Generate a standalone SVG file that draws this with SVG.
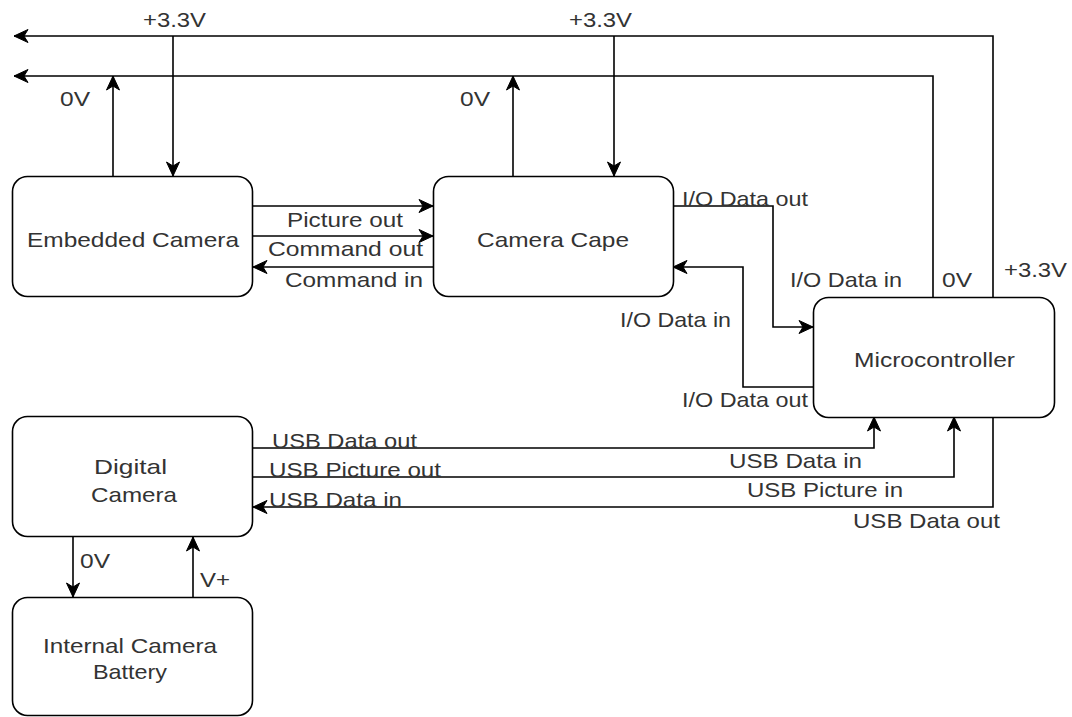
<svg xmlns="http://www.w3.org/2000/svg" width="1072" height="717" viewBox="0 0 1072 717">
<style>
.box{fill:#fff;stroke:#000;stroke-width:1.6}
.c{fill:none;stroke:#000;stroke-width:1.6;marker-end:url(#arr)}
.p{fill:none;stroke:#000;stroke-width:1.6}
text{font-family:"Liberation Sans",Arial,sans-serif;font-size:21px;fill:#333}
.m{text-anchor:middle}
</style>
<defs>
<marker id="arr" markerUnits="userSpaceOnUse" markerWidth="16" markerHeight="14" viewBox="-15 -7 16 14" refX="0" refY="0" orient="auto">
<path d="M0,0 L-14,-6.5 L-10,0 L-14,6.5 Z" fill="#000" stroke="#000" stroke-width="1"/>
</marker>
</defs>
<rect width="1072" height="717" fill="#fff"/>
<g id="connectors">
<path class="c" d="M993,297 V36 H14"/>
<path class="c" d="M933,297 V76 H14"/>
<path class="c" d="M113,176 V76"/>
<path class="c" d="M173,36 V176"/>
<path class="c" d="M513,176 V76"/>
<path class="c" d="M614,36 V176"/>
<path class="c" d="M253,206 H433"/>
<path class="c" d="M253,236 H433"/>
<path class="c" d="M433,267 H253"/>
<path class="c" d="M673,206 H773 V327 H813"/>
<path class="c" d="M813,387 H743 V267 H673"/>
<path class="c" d="M253,448 H874 V417"/>
<path class="c" d="M253,477 H954 V417"/>
<path class="c" d="M993,417 V507 H253"/>
<path class="c" d="M73,537 V597"/>
<path class="c" d="M193,597 V537"/>
<text x="143" y="27" textLength="63" lengthAdjust="spacingAndGlyphs">+3.3V</text>
<text x="60" y="106" textLength="30" lengthAdjust="spacingAndGlyphs">0V</text>
<text x="569" y="27" textLength="63" lengthAdjust="spacingAndGlyphs">+3.3V</text>
<text x="460" y="106" textLength="30" lengthAdjust="spacingAndGlyphs">0V</text>
<text x="287" y="227" textLength="116" lengthAdjust="spacingAndGlyphs">Picture out</text>
<text x="268" y="256" textLength="155" lengthAdjust="spacingAndGlyphs">Command out</text>
<text x="285" y="287" textLength="138" lengthAdjust="spacingAndGlyphs">Command in</text>
<text x="682" y="206" textLength="126" lengthAdjust="spacingAndGlyphs">I/O Data out</text>
<text x="620" y="327" textLength="111" lengthAdjust="spacingAndGlyphs">I/O Data in</text>
<text x="682" y="407" textLength="126" lengthAdjust="spacingAndGlyphs">I/O Data out</text>
<text x="790" y="287" textLength="112" lengthAdjust="spacingAndGlyphs">I/O Data in</text>
<text x="942" y="287" textLength="30" lengthAdjust="spacingAndGlyphs">0V</text>
<text x="1004" y="277" textLength="63" lengthAdjust="spacingAndGlyphs">+3.3V</text>
<text x="272" y="448" textLength="145" lengthAdjust="spacingAndGlyphs">USB Data out</text>
<text x="269" y="477" textLength="172" lengthAdjust="spacingAndGlyphs">USB Picture out</text>
<text x="269" y="507" textLength="133" lengthAdjust="spacingAndGlyphs">USB Data in</text>
<text x="729" y="468" textLength="133" lengthAdjust="spacingAndGlyphs">USB Data in</text>
<text x="747" y="497" textLength="156" lengthAdjust="spacingAndGlyphs">USB Picture in</text>
<text x="853" y="528" textLength="147" lengthAdjust="spacingAndGlyphs">USB Data out</text>
<text x="80" y="568" textLength="30" lengthAdjust="spacingAndGlyphs">0V</text>
<text x="200" y="587" textLength="30" lengthAdjust="spacingAndGlyphs">V+</text>
</g>
<g id="embedded-camera">
<rect class="box" x="12.5" y="176.5" width="240" height="120" rx="15"/>
<text x="27" y="247" textLength="212" lengthAdjust="spacingAndGlyphs">Embedded Camera</text>
</g>
<g id="camera-cape">
<rect class="box" x="433.5" y="176.5" width="240" height="120" rx="15"/>
<text x="477" y="247" textLength="152" lengthAdjust="spacingAndGlyphs">Camera Cape</text>
</g>
<g id="microcontroller">
<rect class="box" x="813.5" y="297.5" width="241" height="120" rx="15"/>
<text x="854" y="367" textLength="161" lengthAdjust="spacingAndGlyphs">Microcontroller</text>
</g>
<g id="digital-camera">
<rect class="box" x="12.5" y="416.5" width="240" height="120" rx="15"/>
<text x="94" y="474" textLength="73" lengthAdjust="spacingAndGlyphs">Digital</text>
<text x="91" y="502" textLength="86" lengthAdjust="spacingAndGlyphs">Camera</text>
</g>
<g id="battery">
<rect class="box" x="12.5" y="597.5" width="240" height="118" rx="15"/>
<text x="43" y="653" textLength="174" lengthAdjust="spacingAndGlyphs">Internal Camera</text>
<text x="93" y="679" textLength="74" lengthAdjust="spacingAndGlyphs">Battery</text>
</g>
</svg>
